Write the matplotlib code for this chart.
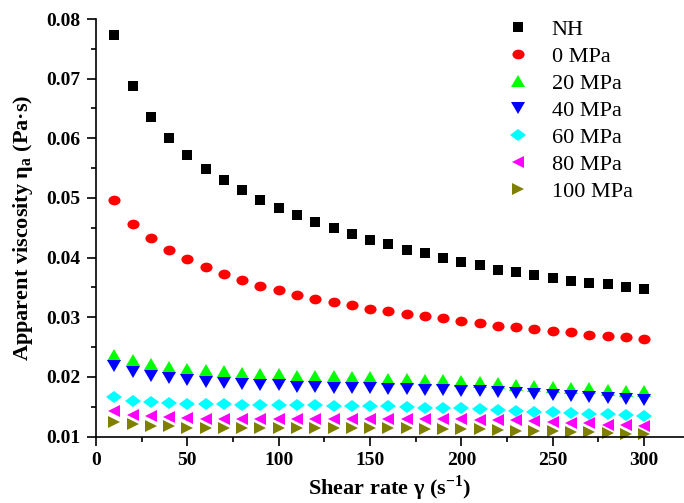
import numpy as np
import matplotlib
matplotlib.use("Agg")
import matplotlib.pyplot as plt
from matplotlib.markers import MarkerStyle
from matplotlib.transforms import Affine2D
from matplotlib.ticker import MultipleLocator, FormatStrFormatter

# -----------------------------
# data
# -----------------------------
shear_rate = np.arange(10, 301, 10)

nh = [0.0773, 0.0687, 0.0635, 0.0600, 0.0572, 0.0549, 0.0530, 0.0513, 0.0497, 0.0483,
      0.0471, 0.0459, 0.0449, 0.0439, 0.0430, 0.0422, 0.0413, 0.0407, 0.0400, 0.0393,
      0.0387, 0.0380, 0.0375, 0.0370, 0.0365, 0.0361, 0.0357, 0.0355, 0.0351, 0.0348]
mpa_0 = [0.0497, 0.0457, 0.0432, 0.0413, 0.0397, 0.0384, 0.0372, 0.0362, 0.0353, 0.0345,
         0.0338, 0.0330, 0.0325, 0.0320, 0.0314, 0.0310, 0.0306, 0.0302, 0.0298, 0.0294,
         0.0291, 0.0286, 0.0284, 0.0281, 0.0277, 0.0275, 0.0271, 0.0269, 0.0266, 0.0263]
mpa_20 = [0.0236, 0.0228, 0.0221, 0.0216, 0.0213, 0.0211, 0.0209, 0.0207, 0.0205, 0.0204,
          0.0202, 0.0202, 0.0201, 0.0200, 0.0199, 0.0197, 0.0196, 0.0195, 0.0195, 0.0193,
          0.0191, 0.0189, 0.0187, 0.0185, 0.0183, 0.0182, 0.0181, 0.0178, 0.0177, 0.0176]
mpa_40 = [0.0218, 0.0208, 0.0202, 0.0198, 0.0195, 0.0192, 0.0189, 0.0188, 0.0187, 0.0186,
          0.0183, 0.0183, 0.0182, 0.0181, 0.0181, 0.0179, 0.0179, 0.0178, 0.0178, 0.0177,
          0.0176, 0.0175, 0.0173, 0.0171, 0.0170, 0.0168, 0.0166, 0.0165, 0.0163, 0.0162]
mpa_60 = [0.0167, 0.0160, 0.0158, 0.0156, 0.0155, 0.0154, 0.0154, 0.0153, 0.0153, 0.0152,
          0.0152, 0.0152, 0.0151, 0.0151, 0.0151, 0.0151, 0.0150, 0.0148, 0.0148, 0.0147,
          0.0146, 0.0144, 0.0143, 0.0141, 0.0141, 0.0139, 0.0138, 0.0137, 0.0136, 0.0134]
mpa_80 = [0.0143, 0.0136, 0.0134, 0.0132, 0.0131, 0.0130, 0.0130, 0.0130, 0.0130, 0.0129,
          0.0129, 0.0129, 0.0129, 0.0129, 0.0129, 0.0129, 0.0129, 0.0129, 0.0129, 0.0129,
          0.0128, 0.0128, 0.0127, 0.0126, 0.0125, 0.0123, 0.0122, 0.0120, 0.0119, 0.0118]
mpa_100 = [0.0124, 0.0121, 0.0118, 0.0117, 0.0115, 0.0115, 0.0115, 0.0114, 0.0114, 0.0114,
           0.0114, 0.0114, 0.0114, 0.0114, 0.0114, 0.0115, 0.0114, 0.0113, 0.0113, 0.0112,
           0.0112, 0.0111, 0.0110, 0.0109, 0.0109, 0.0108, 0.0107, 0.0106, 0.0105, 0.0104]

labels = ["NH", "0 MPa", "20 MPa", "40 MPa", "60 MPa", "80 MPa", "100 MPa"]
series = [nh, mpa_0, mpa_20, mpa_40, mpa_60, mpa_80, mpa_100]

# styles: marker, colour, size (pt), horizontal stretch
markers = ["s", "o", "^", "v", "D", "<", ">"]
colors = ["#000000", "#ff0000", "#00ff00", "#0000ff", "#00ffff", "#ff00ff", "#808000"]
sizes = [6.5, 7.0, 8.0, 8.0, 6.2, 8.0, 8.0]
stretch = [1.2, 1.25, 1.25, 1.25, 1.25, 1.1, 1.1]

# -----------------------------
# fonts
# -----------------------------
plt.rcParams["font.family"] = ["Liberation Serif", "DejaVu Serif"]
plt.rcParams["mathtext.fontset"] = "custom"
plt.rcParams["mathtext.rm"] = "Liberation Serif"
plt.rcParams["mathtext.bf"] = "Liberation Serif:bold"

fig = plt.figure(figsize=(6.84, 5.03), dpi=100)
ax = fig.add_axes([96 / 684, 66.5 / 503, 1 - 96 / 684, 417.5 / 503])

for y, lab, m, c, s, sx in zip(series, labels, markers, colors, sizes, stretch):
    ms = MarkerStyle(m, transform=Affine2D().scale(sx, 1.0))
    ax.plot(shear_rate, y, linestyle="none", marker=ms, markersize=s,
            color=c, markeredgewidth=0, label=lab, clip_on=False)

ax.set_xlim(0, 588 / 1.827)
ax.set_ylim(0.01, 0.08)

ax.xaxis.set_major_locator(MultipleLocator(50))
ax.xaxis.set_minor_locator(MultipleLocator(25))
ax.yaxis.set_major_locator(MultipleLocator(0.01))
ax.yaxis.set_minor_locator(MultipleLocator(0.005))
ax.yaxis.set_major_formatter(FormatStrFormatter("%.2f"))

for side in ["top", "right"]:
    ax.spines[side].set_visible(False)
for side in ["left", "bottom"]:
    ax.spines[side].set_linewidth(1.2)

ax.tick_params(which="major", direction="out", length=6.5, width=1.2, labelsize=14, pad=5)
ax.tick_params(which="minor", direction="out", length=3.4, width=1.2)
for t in ax.get_xticklabels() + ax.get_yticklabels():
    t.set_fontweight("bold")

ax.set_xlabel(r"Shear rate γ (s$^{\mathbf{-1}}$)", fontsize=16, fontweight="bold", labelpad=3)
ax.set_ylabel(r"Apparent viscosity η$_{\mathbf{a}}$ (Pa·s)", fontsize=16, fontweight="bold", labelpad=8)

ax.legend(loc="upper left", bbox_to_anchor=(504.5 / 684, 1 - 19 / 503),
          bbox_transform=fig.transFigure, frameon=False, fontsize=16,
          handlelength=1.2, handletextpad=0.93, labelspacing=0.29,
          borderpad=0, borderaxespad=0)

fig.savefig("out.png", dpi=100)
